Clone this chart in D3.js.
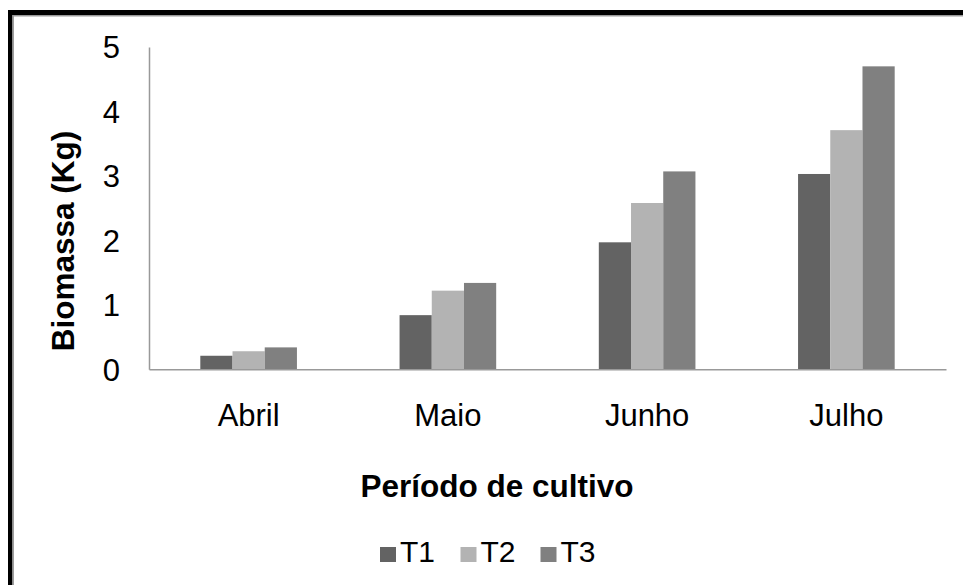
<!DOCTYPE html>
<html><head><meta charset="utf-8">
<script src="https://cdn.jsdelivr.net/npm/d3@7"></script>
<style>body{margin:0;background:#fff}svg{display:block}text{font-family:"Liberation Sans",Arial,sans-serif;fill:#000}</style>
</head><body><svg id="c" width="963" height="585"></svg>
<script>
const categories = ["Abril","Maio","Junho","Julho"];
const seriesNames = ["T1","T2","T3"];
const T1 = [0.21,0.84,1.97,3.03];
const T2 = [0.28,1.22,2.58,3.71];
const T3 = [0.34,1.34,3.07,4.70];
const yTicks = [0,1,2,3,4,5];
const colors = ["#636363","#b3b3b3","#808080"];
const seriesVals = [T1,T2,T3];

const svg = d3.select("#c");
// frame
svg.append("line").attr("x1",10.25).attr("x2",10.25).attr("y1",10).attr("y2",585).attr("stroke","#000").attr("stroke-width",4.5);
svg.append("line").attr("x1",8).attr("x2",963).attr("y1",12.5).attr("y2",12.5).attr("stroke","#000").attr("stroke-width",5);
svg.append("line").attr("x1",13.2).attr("x2",13.2).attr("y1",15).attr("y2",585).attr("stroke","#999").attr("stroke-width",1.5);
svg.append("line").attr("x1",13).attr("x2",963).attr("y1",15.7).attr("y2",15.7).attr("stroke","#999").attr("stroke-width",1.5);

const x0 = 149, x1 = 946, yTop = 47, yBase = 369.3;
const x = d3.scaleBand().domain(categories).range([x0,x1]).paddingInner(0.515).paddingOuter(0.2575);
const xs = d3.scaleBand().domain(seriesNames).range([0,x.bandwidth()]);
const y = d3.scaleLinear().domain([0,5]).range([yBase,yTop]);

// bars
seriesNames.forEach((s,si)=>{
  svg.append("g").selectAll("rect").data(categories).join("rect")
    .attr("x",d=>x(d)+xs(s))
    .attr("width",xs.bandwidth())
    .attr("y",(d,i)=>y(seriesVals[si][i]))
    .attr("height",(d,i)=>yBase-y(seriesVals[si][i]))
    .attr("fill",colors[si]);
});

// axes
const yAxis = svg.append("g").attr("transform",`translate(${x0},0)`)
  .call(d3.axisLeft(y).tickValues(yTicks).tickSize(0).tickPadding(29).tickFormat(d3.format("d")));
yAxis.select(".domain").attr("stroke","#999").attr("stroke-width",1.5);
yAxis.selectAll("text").style("font-size","31px").attr("fill","#000").attr("dy","0.35em");

const xAxis = svg.append("g").attr("transform",`translate(0,${yBase})`)
  .call(d3.axisBottom(x).tickSize(0).tickPadding(0));
xAxis.select(".domain").attr("stroke","#999").attr("stroke-width",1.5);
xAxis.selectAll("text").style("font-size","31px").attr("fill","#000").attr("dy",null).attr("y",57);

// titles
svg.append("text").attr("x",497).attr("y",497).attr("text-anchor","middle")
  .style("font-size","31.5px").style("font-weight","bold").text("Período de cultivo");
svg.append("text").attr("transform","translate(74,241) rotate(-90)").attr("text-anchor","middle")
  .style("font-size","31.5px").style("font-weight","bold").text("Biomassa (Kg)");

// legend
const legX = [380,460.5,540.5];
const lg = svg.append("g");
seriesNames.forEach((s,i)=>{
  lg.append("rect").attr("x",legX[i]).attr("y",547).attr("width",16).attr("height",15).attr("fill",colors[i]);
  lg.append("text").attr("x",legX[i]+20).attr("y",562).style("font-size","30px").text(s);
});
</script></body></html>
